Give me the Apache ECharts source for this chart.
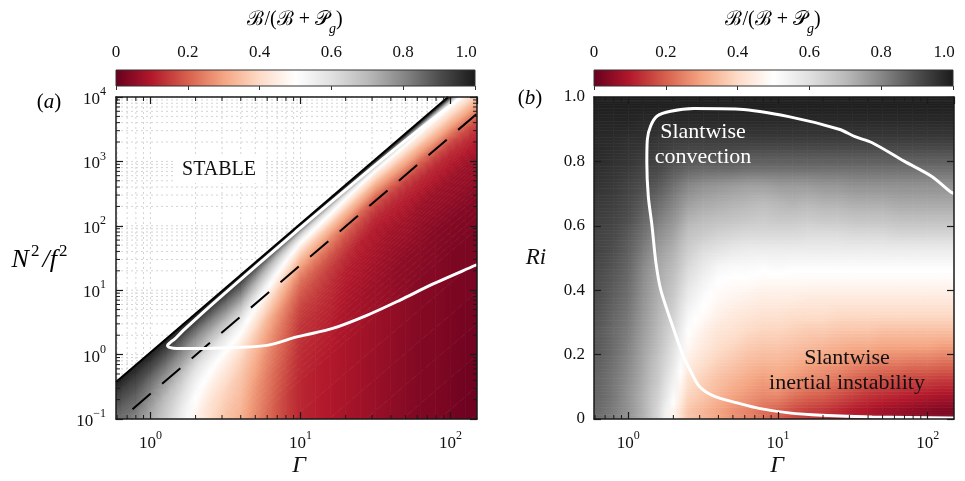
<!DOCTYPE html>
<html><head><meta charset="utf-8">
<script src="https://cdn.jsdelivr.net/npm/echarts@6/dist/echarts.min.js"></script>
<style>html,body{margin:0;padding:0;background:#fff}#c{width:965px;height:481px}</style>
</head><body><div id="c"></div>
<script>
// ================= DATA =================
// column edges in Γ (shared by both panels)
const gammaEdges = [0.562,0.708,0.891,1.12,1.41,1.78,2.24,2.82,3.55,4.47,5.62,7.08,8.91,11.2,14.1,17.8,22.4,28.2,35.5,44.7,56.2,70.8,89.1,112,141,178];
// panel (a): row edges in N²/(f²Γ²), top (stability line) -> bottom
const ratioEdgesA = [1.08,0.92,0.8,0.68,0.56,0.46,0.38,0.3,0.22,0.16,0.11,0.07,0.04,0.02,0.008,0.002,1e-7];
// panel (a): B/(B+Pg) in %, one array per Γ column, rows top -> bottom
const fieldA = [
 [99,97,95,93,91,89,87,85,84,83,82,82,82,82,82,82],
 [99,97,95,93,91,89,87,85,82,80,78,77,77,77,77,77],
 [99,97,94,92,89,86,84,81,78,75,73,72,72,72,72,72],
 [99,96,93,90,87,84,81,77,74,70,67,65,64,64,64,64],
 [98,96,92,88,85,81,78,74,69,65,61,57,55,54,54,54],
 [98,95,91,86,82,78,75,70,63,58,54,50,47,45,44,44],
 [98,94,90,86,81,77,72,67,60,55,50,46,42,40,38,38],
 [98,94,90,85,81,76,71,65,58,53,47,43,39,36,34,33],
 [98,93,89,85,80,75,69,62,55,50,44,39,36,34,31,30],
 [98,90,84,78,72,67,61,54,48,43,38,34,31,28,26,25],
 [98,87,78,70,64,58,52,46,40,36,31,28,25,23,21,20],
 [98,84,72,63,56,49,44,38,33,29,25,22,20,18,16,15],
 [98,80,66,56,48,41,36,31,26,22,19,16,14,13,12,11],
 [98,78,63,53,46,39,34,29,24,20,17,15,13,12,11,10],
 [98,76,61,51,44,37,32,26,22,18,15,13,12,11,10,9],
 [97,74,58,48,41,35,30,24,19,16,13,11,10,9,9,8],
 [97,72,55,45,39,33,28,21,17,14,11,10,9,8,8,7],
 [97,70,53,43,37,31,26,19,15,12,10,9,8,7,7,6],
 [97,70,53,44,38,32,27,20,15,12,10,8,7,6,6,5],
 [96,69,53,44,38,33,28,21,15,12,10,8,7,5,5,4],
 [96,69,52,44,39,33,28,21,16,12,10,7,6,5,4,3],
 [95,68,52,44,39,34,29,22,16,12,10,7,6,4,4,3],
 [95,68,52,44,39,34,29,22,16,12,10,7,6,4,3,2],
 [95,68,52,45,40,35,30,23,17,13,10,7,6,4,3,1],
 [95,68,53,45,40,35,30,23,17,13,10,7,6,4,3,1]
];
// panel (b): row edges in Ri
const riEdgesB = [0,0.05,0.1,0.15,0.2,0.25,0.3,0.35,0.4,0.45,0.5,0.55,0.6,0.65,0.7,0.75,0.8,0.85,0.9,0.95,1.0];
// panel (b): B/(B+Pg) in %, one array per Γ column, rows bottom -> top
const fieldB = [
 [85,86,86,87,88,88,89,90,90,91,92,92,93,94,95,96,97,97,98,99],
 [82,83,83,84,85,85,86,87,88,89,90,91,92,93,94,95,96,97,98,99],
 [78,78,79,80,81,82,83,84,85,86,87,88,90,91,92,94,95,96,98,99],
 [72,72,73,74,75,76,77,78,79,80,82,84,86,88,90,92,94,96,97,99],
 [62,64,66,67,69,70,71,72,73,74,76,79,82,85,88,91,93,95,97,99],
 [47,52,55,58,60,62,64,66,68,70,72,75,78,81,84,88,91,94,97,99],
 [36,39,42,45,48,50,53,56,59,62,65,68,72,76,80,86,90,94,97,99],
 [33,36,38,41,44,46,49,51,54,57,61,66,70,74,78,85,90,94,97,99],
 [30,33,35,38,41,43,46,48,50,53,59,64,69,73,77,85,90,94,97,99],
 [27,30,33,36,39,42,44,47,49,52,57,63,68,72,76,85,90,94,97,99],
 [25,28,31,34,37,40,43,46,49,52,56,62,67,71,75,84,89,94,97,99],
 [22,26,29,33,36,39,42,45,48,51,56,62,66,70,75,84,89,94,97,99],
 [20,26,30,33,36,39,42,45,48,52,56,62,67,71,76,84,89,94,97,99],
 [17,23,28,32,35,38,41,45,48,51,56,62,67,72,76,84,89,94,97,99],
 [15,21,26,30,34,37,41,44,48,51,56,61,66,71,76,84,89,94,97,99],
 [14,20,25,29,33,37,41,44,48,51,56,61,67,72,77,84,89,94,97,99],
 [12,18,23,28,32,36,40,44,48,51,56,61,67,72,77,84,89,94,97,99],
 [10,16,21,26,31,36,40,44,48,51,56,62,68,73,78,84,89,94,97,99],
 [9,14,19,25,31,36,40,44,48,51,56,62,68,73,78,84,89,94,97,99],
 [7,13,18,24,30,35,40,44,48,51,56,62,68,73,78,84,89,94,97,99],
 [6,12,17,24,30,35,40,44,48,51,56,63,69,74,78,84,89,94,97,99],
 [5,11,16,23,30,35,40,44,48,51,56,63,69,74,78,84,89,94,97,99],
 [4,10,16,23,30,35,40,44,48,51,56,63,69,74,78,84,89,94,97,99],
 [3,9,15,22,29,35,40,44,48,51,56,63,69,74,78,84,89,94,97,99],
 [3,9,15,22,29,35,40,44,48,51,56,63,69,74,78,84,89,94,97,99]
];
// lines, panel (a): [Γ, N²/f²]
const stableLineA = [[0.59,0.376],[96.2,10000]];
const dashedLineA = [[0.76,0.142],[150,5510]];
const contourA = [[118,10000],[60,2950],[30,801],[9.3,80.8],[2.75,6.89],[1.65,2.35],[1.45,1.74],[1.36,1.55],[1.30,1.39],[1.36,1.28],[1.5,1.24],[2.15,1.24],[3.56,1.29],[6.0,1.39],[9.6,1.9],[16.4,2.55],[27.7,4.07],[45.8,6.97],[75.9,12.4],[146.6,24.4],[150,25]];
// line, panel (b): [Γ, Ri]
const contourB = [[150,0.70],[142.6,0.705],[106,0.754],[70.1,0.80],[42.6,0.858],[32.7,0.877],[25.6,0.9],[11.8,0.939],[5.52,0.962],[2.74,0.964],[1.92,0.956],[1.56,0.941],[1.41,0.91],[1.34,0.868],[1.33,0.796],[1.36,0.692],[1.44,0.6],[1.53,0.485],[1.65,0.4],[1.94,0.3],[2.31,0.2],[2.6,0.15],[3.0,0.1],[3.77,0.07],[5.35,0.05],[7.48,0.033],[11.8,0.019],[19.6,0.0115],[42.6,0.006],[150,0.003]];
// ticks
const xMinorTicks = [0.6,0.7,0.8,0.9,2,3,4,5,6,7,8,9,20,30,40,50,60,70,80,90];
const xMajorTicks = [1,10,100];
const yDecadesA = [0.1,1,10,100,1000,10000];
const minorMult = [2,3,4,5,6,7,8,9];
const colorbarTicks = [0,0.2,0.4,0.6,0.8,1.0];
const palette = ['#67001f','#b2182b','#d6604d','#f4a582','#fddbc7','#ffffff','#e0e0e0','#bababa','#878787','#4d4d4d','#1a1a1a'];

// ================= BUILD =================
const F = '"Liberation Serif","Times New Roman",serif';
const INK = '#1a1a1a';
const yMinorTicksA = [];
yDecadesA.slice(0,-1).forEach(d => minorMult.forEach(m => yMinorTicksA.push(+(m*d).toPrecision(3))));

function cmap(v){ return echarts.color.lerp(Math.max(0,Math.min(1,v)), palette); }
// node positions: outer edge, cell centres, outer edge
function nodesGeo(edges){ const n=[edges[0]]; for(let i=0;i<edges.length-1;i++) n.push(Math.sqrt(edges[i]*edges[i+1])); n.push(edges[edges.length-1]); return n; }
function nodesLin(edges){ const n=[edges[0]]; for(let i=0;i<edges.length-1;i++) n.push((edges[i]+edges[i+1])/2); n.push(edges[edges.length-1]); return n; }
const clampI=(i,n)=>Math.max(0,Math.min(n-1,i));
// quads between neighbouring cell centres, carrying the four corner values (shaded like MATLAB 'interp')
function buildQuads(field, xn, yn){
  const C=field.length, R=field[0].length, out=[];
  for(let i=0;i<C+1;i++) for(let j=0;j<R+1;j++){
    const cl=clampI(i-1,C), cr=clampI(i,C), ra=clampI(j-1,R), rb=clampI(j,R);
    out.push([xn[i],xn[i+1],yn[j],yn[j+1],field[cl][ra]/100,field[cr][ra]/100,field[cl][rb]/100,field[cr][rb]/100]);
  }
  return out;
}
const quadsA = buildQuads(fieldA, nodesGeo(gammaEdges), nodesGeo(ratioEdgesA));
const quadsB = buildQuads(fieldB, nodesGeo(gammaEdges), nodesLin(riEdgesB));

function clipOf(params){const cs=params.coordSys;return {type:'rect',shape:{x:cs.x,y:cs.y,width:cs.width,height:cs.height}};}
function grad(x0,x1,vl,vr){
  return new echarts.graphic.LinearGradient(x0,0,x1,0,[{offset:0,color:cmap(vl)},{offset:0.5,color:cmap((vl+vr)/2)},{offset:1,color:cmap(vr)}],true);
}
const K=5;
// panel (a): y-nodes are ratios N²/(f²Γ²); each strip is a parallelogram along the stability line
function renderA(params, api){
  const gL=api.value(0), gR=api.value(1), ya=api.value(2), yb=api.value(3);
  const v00=api.value(4), v10=api.value(5), v01=api.value(6), v11=api.value(7);
  const la=Math.log(ya), lb=Math.log(yb), ch=[];
  for(let k=0;k<K;k++){
    const rA=Math.exp(la+(lb-la)*k/K), rB=Math.exp(la+(lb-la)*(k+1)/K), t=(k+0.5)/K;
    const vl=v00+(v01-v00)*t, vr=v10+(v11-v10)*t;
    const p=[api.coord([gL,rA*gL*gL]),api.coord([gR,rA*gR*gR]),api.coord([gR,rB*gR*gR]),api.coord([gL,rB*gL*gL])];
    const g=grad(p[0][0],p[1][0],vl,vr);
    ch.push({type:'polygon',shape:{points:p},style:{fill:g,stroke:g,lineWidth:0.7}});
  }
  return {type:'group',children:ch,clipPath:clipOf(params)};
}
function renderB(params, api){
  const gL=api.value(0), gR=api.value(1), ya=api.value(2), yb=api.value(3);
  const v00=api.value(4), v10=api.value(5), v01=api.value(6), v11=api.value(7), ch=[];
  for(let k=0;k<K;k++){
    const rA=ya+(yb-ya)*k/K, rB=ya+(yb-ya)*(k+1)/K, t=(k+0.5)/K;
    const vl=v00+(v01-v00)*t, vr=v10+(v11-v10)*t;
    const p0=api.coord([gL,rA]), p1=api.coord([gR,rB]);
    const g=grad(p0[0],p1[0],vl,vr);
    ch.push({type:'rect',shape:{x:p0[0],y:p1[1],width:p1[0]-p0[0],height:p0[1]-p1[1]},style:{fill:g,stroke:g,lineWidth:0.7}});
  }
  return {type:'group',children:ch,clipPath:clipOf(params)};
}
function tickData(xs, ys, xPh, yPh){ return xs.map(v=>[v,yPh,0]).concat(ys.map(v=>[xPh,v,1])); }
function renderMinor(len){
  return function(params, api){
    const cs=params.coordSys, kind=api.value(2), p=api.coord([api.value(0),api.value(1)]);
    const st={stroke:INK,lineWidth:1};
    if(kind===0){
      if(p[0]<=cs.x+1||p[0]>=cs.x+cs.width-1) return null;
      return {type:'group',children:[
        {type:'line',shape:{x1:p[0],y1:cs.y+cs.height,x2:p[0],y2:cs.y+cs.height-len},style:st},
        {type:'line',shape:{x1:p[0],y1:cs.y,x2:p[0],y2:cs.y+len},style:st}]};
    }
    return {type:'group',children:[
      {type:'line',shape:{x1:cs.x,y1:p[1],x2:cs.x+len,y2:p[1]},style:st},
      {type:'line',shape:{x1:cs.x+cs.width,y1:p[1],x2:cs.x+cs.width-len,y2:p[1]},style:st}]};
  };
}
function renderGridLines(params, api){
  const cs=params.coordSys, kind=api.value(2), p=api.coord([api.value(0),api.value(1)]);
  const st={stroke:'#d4d4d4',lineWidth:1,lineDash:[2,3]};
  if(kind===0) return {type:'line',shape:{x1:p[0],y1:cs.y,x2:p[0],y2:cs.y+cs.height},style:st};
  return {type:'line',shape:{x1:cs.x,y1:p[1],x2:cs.x+cs.width,y2:p[1]},style:st};
}
function renderBar(params, api){
  const p0=api.coord([api.value(0),api.value(1)]), p1=api.coord([api.value(2),api.value(3)]);
  return {type:'rect',shape:{x:p0[0],y:p1[1],width:p1[0]-p0[0],height:p0[1]-p1[1]},
    style:{fill:new echarts.graphic.LinearGradient(0,0,1,0,palette.map((c,i)=>({offset:i/(palette.length-1),color:c}))),stroke:'#333',lineWidth:1}};
}

const supRich = {
  b:{fontFamily:F,fontSize:17,color:'#111',lineHeight:22,verticalAlign:'bottom'},
  s:{fontFamily:F,fontSize:12,color:'#111',lineHeight:10,verticalAlign:'top'}
};
function powLabel(v){
  const e=Math.log10(v); if(Math.abs(e-Math.round(e))>1e-6) return '';
  const k=Math.round(e); return '{b|10}{s|'+(k<0?'\u2212'+(-k):k)+'}';
}
const axLine={show:true,onZero:false,lineStyle:{color:INK,width:1.5}};
const axTick={show:true,inside:true,length:7,lineStyle:{color:INK,width:1.2}};
function logX(grid,pos,labels){
  return {type:'log',gridIndex:grid,position:pos,min:0.59,max:150,logBase:10,z:5,
    axisLine:axLine,axisTick:axTick,splitLine:{show:false},
    axisLabel:{show:labels,formatter:powLabel,rich:supRich,margin:11,showMinLabel:false,showMaxLabel:false}};
}
const cbLabel = {show:true,margin:9,fontFamily:F,fontSize:17,color:'#111',
  formatter:v=>v===0?'0':(v===1?'{r|1.0}':v.toFixed(1)),
  rich:{r:{fontFamily:F,fontSize:17,color:'#111',padding:[0,18,0,0]}}};
const titleRich = {t:{fontFamily:F,fontSize:20,color:'#111',lineHeight:26,verticalAlign:'top'},
                   g:{fontFamily:F,fontStyle:'italic',fontSize:14,color:'#111',lineHeight:12,verticalAlign:'bottom'}};
const panelRich = {p:{fontFamily:F,fontSize:21,color:'#111'},i:{fontFamily:F,fontStyle:'italic',fontSize:21,color:'#111'}};

const option = {
  animation:false,
  backgroundColor:'#fff',
  grid:[
    {left:116,top:97,width:361,height:322},
    {left:594,top:97,width:360,height:322},
    {left:116,top:70,width:359,height:16},
    {left:594,top:70,width:359,height:16}
  ],
  xAxis:[
    logX(0,'bottom',true),
    logX(0,'top',false),
    logX(1,'bottom',true),
    logX(1,'top',false),
    {type:'value',gridIndex:2,position:'top',min:0,max:1,interval:0.2,z:5,axisLine:{show:false},
      axisTick:{show:true,inside:true,length:4,lineStyle:{color:'#333',width:1}},splitLine:{show:false},axisLabel:cbLabel},
    {type:'value',gridIndex:3,position:'top',min:0,max:1,interval:0.2,z:5,axisLine:{show:false},
      axisTick:{show:true,inside:true,length:4,lineStyle:{color:'#333',width:1}},splitLine:{show:false},axisLabel:cbLabel}
  ],
  yAxis:[
    {type:'log',gridIndex:0,position:'left',min:0.1,max:10000,logBase:10,z:5,axisLine:axLine,axisTick:axTick,splitLine:{show:false},
      axisLabel:{formatter:powLabel,rich:supRich,margin:10}},
    {type:'log',gridIndex:0,position:'right',min:0.1,max:10000,logBase:10,z:5,axisLine:axLine,axisTick:axTick,splitLine:{show:false},axisLabel:{show:false}},
    {type:'value',gridIndex:1,position:'left',min:0,max:1,interval:0.2,z:5,axisLine:axLine,axisTick:axTick,splitLine:{show:false},
      axisLabel:{margin:9,fontFamily:F,fontSize:17,color:'#111',formatter:v=>v===0?'0':v.toFixed(1)}},
    {type:'value',gridIndex:1,position:'right',min:0,max:1,interval:0.2,z:5,axisLine:axLine,axisTick:axTick,splitLine:{show:false},axisLabel:{show:false}},
    {type:'value',gridIndex:2,min:0,max:1,show:false},
    {type:'value',gridIndex:3,min:0,max:1,show:false}
  ],
  series:[
    {type:'custom',xAxisIndex:0,yAxisIndex:0,z:1,silent:true,data:tickData(xMinorTicks.concat(xMajorTicks),yMinorTicksA.concat(yDecadesA),1,1),renderItem:renderGridLines},
    {type:'custom',xAxisIndex:0,yAxisIndex:0,z:2,silent:true,data:quadsA,renderItem:renderA},
    {type:'line',xAxisIndex:0,yAxisIndex:0,z:3,data:stableLineA,symbol:'none',silent:true,lineStyle:{color:'#000',width:2}},
    {type:'line',xAxisIndex:0,yAxisIndex:0,z:3,data:dashedLineA,symbol:'none',silent:true,lineStyle:{color:'#000',width:2,type:[24,15]}},
    {type:'line',xAxisIndex:0,yAxisIndex:0,z:3,data:contourA,symbol:'none',silent:true,smooth:0.3,lineStyle:{color:'#fff',width:3}},
    {type:'custom',xAxisIndex:2,yAxisIndex:2,z:2,silent:true,data:quadsB,renderItem:renderB},
    {type:'line',xAxisIndex:2,yAxisIndex:2,z:3,data:contourB,symbol:'none',silent:true,smooth:0.3,lineStyle:{color:'#fff',width:3}},
    {type:'custom',xAxisIndex:0,yAxisIndex:0,z:6,silent:true,data:tickData(xMinorTicks,yMinorTicksA,1,1),renderItem:renderMinor(4)},
    {type:'custom',xAxisIndex:2,yAxisIndex:2,z:6,silent:true,data:tickData(xMinorTicks,[],1,0.5),renderItem:renderMinor(4)},
    {type:'custom',xAxisIndex:4,yAxisIndex:4,z:2,silent:true,data:[[colorbarTicks[0],0,colorbarTicks[colorbarTicks.length-1],1]],renderItem:renderBar},
    {type:'custom',xAxisIndex:5,yAxisIndex:5,z:2,silent:true,data:[[colorbarTicks[0],0,colorbarTicks[colorbarTicks.length-1],1]],renderItem:renderBar}
  ],
  graphic:[
    {type:'text',z:20,x:219,y:170,style:{text:'STABLE',font:'20px '+F,fill:'#111',align:'center',verticalAlign:'middle',backgroundColor:'#fff',padding:[3,8]}},
    {type:'text',z:20,x:49,y:102,style:{text:'{p|(}{i|a}{p|)}',rich:panelRich,align:'center',verticalAlign:'middle'}},
    {type:'text',z:20,x:530,y:98,style:{text:'{p|(}{i|b}{p|)}',rich:panelRich,align:'center',verticalAlign:'middle'}},
    {type:'text',z:20,x:299,y:466,style:{text:'\u0393',font:'italic 24px '+F,fill:'#111',align:'center',verticalAlign:'middle'}},
    {type:'text',z:20,x:777,y:466,style:{text:'\u0393',font:'italic 24px '+F,fill:'#111',align:'center',verticalAlign:'middle'}},
    {type:'text',z:20,x:40,y:258,style:{text:'{i|N}{s|2}{i|/f}{s|2}',align:'center',verticalAlign:'middle',
      rich:{i:{fontFamily:F,fontStyle:'italic',fontSize:26,color:'#111',lineHeight:30,verticalAlign:'bottom',padding:[0,1,0,1]},
            s:{fontFamily:F,fontSize:17,color:'#111',lineHeight:13,verticalAlign:'top',padding:[0,2,0,1]}}}},
    {type:'text',z:20,x:536,y:258,style:{text:'Ri',font:'italic 23px '+F,fill:'#111',align:'center',verticalAlign:'middle'}},
    {type:'text',z:20,x:295,y:23,style:{text:'{t|\u212C/(\u212C + \uD835\uDCAB}{g|g}{t|)}',align:'center',verticalAlign:'middle',rich:titleRich}},
    {type:'text',z:20,x:773,y:23,style:{text:'{t|\u212C/(\u212C + \uD835\uDCAB}{g|g}{t|)}',align:'center',verticalAlign:'middle',rich:titleRich}},
    {type:'text',z:20,x:703,y:145,style:{text:'Slantwise\nconvection',font:'22px '+F,fill:'#fff',align:'center',verticalAlign:'middle',lineHeight:25}},
    {type:'text',z:20,x:847,y:371,style:{text:'Slantwise\ninertial instability',font:'22px '+F,fill:'#111',align:'center',verticalAlign:'middle',lineHeight:25}}
  ]
};
const chart = echarts.init(document.getElementById('c'),null,{renderer:'canvas'});
chart.setOption(option);
</script>
</body></html>
